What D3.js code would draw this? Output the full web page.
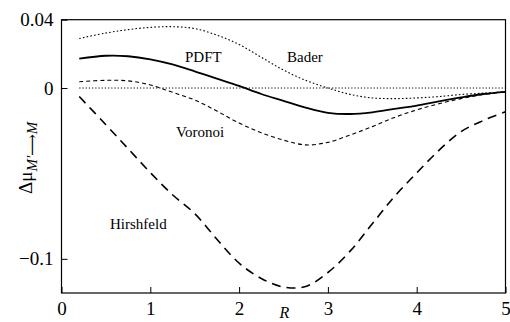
<!DOCTYPE html>
<html>
<head>
<meta charset="utf-8">
<script src="https://cdn.jsdelivr.net/npm/d3@7"></script>
<style>
  html, body { margin: 0; padding: 0; background: #fff; }
  svg { display: block; }
  svg text { font-family: "Liberation Serif", "DejaVu Serif", serif !important; }
</style>
</head>
<body>
<svg id="chart" width="510" height="322"></svg>
<script>
// Distance grid (R) shared by all curves
const R = [0.2, 0.5, 0.75, 1.0, 1.25, 1.5, 1.75, 2.0, 2.25, 2.5, 2.75, 3.0, 3.25, 3.5, 3.75, 4.0, 4.25, 4.5, 4.75, 5.0];

// Δμ values for each partitioning scheme
const bader     = [0.029, 0.0322, 0.0342, 0.0355, 0.0359, 0.0348, 0.031, 0.0255, 0.018, 0.0105, 0.0045, 0.0, -0.0037, -0.0058, -0.0062, -0.0058, -0.005, -0.0038, -0.003, -0.0022];
const pdft      = [0.0172, 0.0189, 0.0186, 0.0168, 0.0138, 0.0098, 0.0055, 0.0012, -0.0035, -0.0075, -0.0115, -0.0145, -0.0152, -0.0142, -0.0122, -0.0103, -0.0078, -0.0055, -0.0035, -0.0022];
const voronoi   = [0.0037, 0.0045, 0.0042, 0.0018, -0.0025, -0.007, -0.0135, -0.0205, -0.0262, -0.0305, -0.0333, -0.0318, -0.0275, -0.0226, -0.0172, -0.0128, -0.0092, -0.0062, -0.0038, -0.0022];
const hirshfeld = [-0.005, -0.0215, -0.0355, -0.0495, -0.0625, -0.0735, -0.0885, -0.1025, -0.1115, -0.1165, -0.1162, -0.108, -0.0955, -0.0795, -0.0635, -0.0497, -0.0365, -0.0255, -0.019, -0.0139];
const zeroLine  = [0, 0];
const zeroR     = [0.2, 5.0];

// Axis ticks
const xTicks = [0, 1, 2, 3, 4, 5];
const yTicks = [0.04, 0, -0.1];
const yTickLabels = ["0.04", "0", "\u22120.1"];

const SERIF = "Liberation Serif, DejaVu Serif, serif";

const svg = d3.select("#chart");
const plot = { left: 61.5, right: 505.5, top: 19.7, bottom: 293 };

const x = d3.scaleLinear().domain([0, 5]).range([plot.left, plot.right]);
const y = d3.scaleLinear().domain([-0.12, 0.04]).range([plot.bottom, plot.top]);

const line = d3.line()
  .x(d => x(d[0]))
  .y(d => y(d[1]))
  .curve(d3.curveCatmullRom.alpha(0.5));

const series = [
  { vals: bader,     r: R, width: 1.1, dash: "1.6,2.2" },
  { vals: pdft,      r: R, width: 1.8, dash: null },
  { vals: voronoi,   r: R, width: 1.1, dash: "4,3" },
  { vals: hirshfeld, r: R, width: 1.6, dash: "9,6" },
  { vals: zeroLine,  r: zeroR, width: 1.0, dash: "1.2,2" }
];

series.forEach(s => {
  svg.append("path")
    .datum(s.r.map((rv, i) => [rv, s.vals[i]]))
    .attr("d", line)
    .attr("fill", "none")
    .attr("stroke", "#000")
    .attr("stroke-width", s.width)
    .attr("stroke-dasharray", s.dash);
});

// Frame
svg.append("rect")
  .attr("x", plot.left).attr("y", plot.top)
  .attr("width", plot.right - plot.left).attr("height", plot.bottom - plot.top)
  .attr("fill", "none").attr("stroke", "#000").attr("stroke-width", 1.2);

// Bottom axis: inward ticks
const xAxis = d3.axisBottom(x).tickValues(xTicks).tickSize(-6).tickPadding(9).tickFormat(d3.format("d"));
const gx = svg.append("g").attr("transform", `translate(0,${plot.bottom})`).call(xAxis)
  .attr("font-family", null).attr("font-size", null);
gx.select(".domain").remove();
gx.selectAll("line").attr("stroke", "#000").attr("stroke-width", 1);
gx.selectAll("text").attr("fill", "#000").attr("dy", "0.68em")
  .style("font-family", SERIF).style("font-size", "19px");

// Left axis: inward ticks
const yAxis = d3.axisLeft(y).tickValues(yTicks).tickSize(-6).tickPadding(8)
  .tickFormat((d, i) => yTickLabels[i]);
const gy = svg.append("g").attr("transform", `translate(${plot.left},0)`).call(yAxis)
  .attr("font-family", null).attr("font-size", null);
gy.select(".domain").remove();
gy.selectAll("line").attr("stroke", "#000").attr("stroke-width", 1);
gy.selectAll("text").attr("fill", "#000")
  .style("font-family", SERIF).style("font-size", "19px");

// Axis titles
svg.append("text")
  .attr("x", x(2.5) + 1).attr("y", 318)
  .attr("text-anchor", "middle")
  .style("font-family", SERIF)
  .style("font-size", "16px").style("font-style", "italic")
  .text("R");

const yl = svg.append("text")
  .attr("transform", "translate(32,194) rotate(-90)")
  .style("font-family", SERIF)
  .style("font-size", "19px");
yl.append("tspan").text("\u0394\u03bc");
yl.append("tspan").attr("dy", 5).style("font-size", "15px").style("font-style", "italic").text("M\u2032");
yl.append("tspan").style("font-size", "15px").text("\u27f6");
yl.append("tspan").style("font-size", "15px").style("font-style", "italic").text("M");

// Curve labels
const labels = [
  { t: "PDFT", x: 185, y: 62 },
  { t: "Bader", x: 287, y: 62 },
  { t: "Voronoi", x: 176, y: 137 },
  { t: "Hirshfeld", x: 110, y: 229 }
];
svg.selectAll("text.curve-label").data(labels).enter().append("text")
  .attr("class", "curve-label")
  .attr("x", d => d.x).attr("y", d => d.y)
  .style("font-family", SERIF)
  .style("font-size", "15px")
  .text(d => d.t);
</script>
</body>
</html>
